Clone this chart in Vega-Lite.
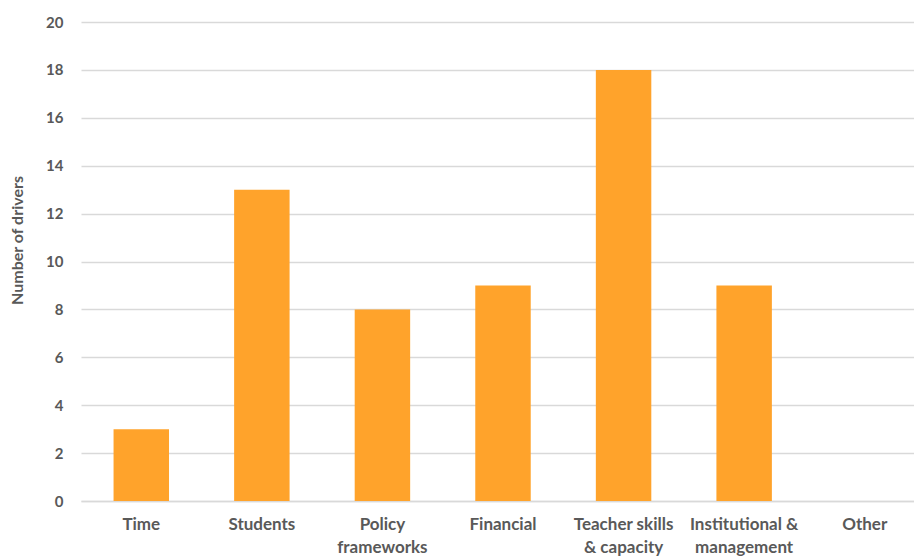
{
  "$schema": "https://vega.github.io/schema/vega-lite/v6.json",
  "autosize": {"type": "none"},
  "width": 844,
  "height": 479,
  "padding": {"left": 81, "top": 22, "right": 0, "bottom": 55},
  "background": "white",
  "data": {
    "values": [
      {"category": "Time", "drivers": 3},
      {"category": "Students", "drivers": 13},
      {"category": "Policy frameworks", "drivers": 8},
      {"category": "Financial", "drivers": 9},
      {"category": "Teacher skills & capacity", "drivers": 18},
      {"category": "Institutional & management", "drivers": 9},
      {"category": "Other", "drivers": 0}
    ]
  },
  "config": {
    "view": {"stroke": null},
    "font": "Lato",
    "axis": {
      "labelFont": "Lato",
      "labelFontWeight": "bold",
      "labelColor": "#595959",
      "titleFont": "Lato",
      "titleColor": "#595959",
      "gridColor": "#D9D9D9",
      "domainColor": "#D9D9D9"
    }
  },
  "mark": {"type": "bar", "color": "#FFA32B"},
  "encoding": {
    "x": {
      "field": "category",
      "type": "nominal",
      "sort": null,
      "scale": {"paddingInner": 0.54, "paddingOuter": 0.27},
      "axis": {
        "title": null,
        "labelAngle": 0,
        "labelFontSize": 17,
        "labelPadding": 15,
        "labelLineHeight": 23,
        "labelBaseline": "top",
        "ticks": false,
        "domain": true,
        "domainWidth": 1.5,
        "labelExpr": "datum.value == 'Policy frameworks' ? ['Policy', 'frameworks'] : datum.value == 'Teacher skills & capacity' ? ['Teacher skills', '& capacity'] : datum.value == 'Institutional & management' ? ['Institutional &', 'management'] : datum.value"
      }
    },
    "y": {
      "field": "drivers",
      "type": "quantitative",
      "scale": {"domain": [0, 20]},
      "axis": {
        "title": "Number of drivers",
        "titleFontSize": 16,
        "titleFontWeight": "bold",
        "titleAngle": -90,
        "titleAlign": "center",
        "titleBaseline": "middle",
        "titleX": -64,
        "titleY": 218,
        "values": [0, 2, 4, 6, 8, 10, 12, 14, 16, 18, 20],
        "labelFontSize": 15,
        "labelPadding": 18,
        "ticks": false,
        "domain": false,
        "grid": true,
        "gridWidth": 1.5
      }
    }
  }
}
